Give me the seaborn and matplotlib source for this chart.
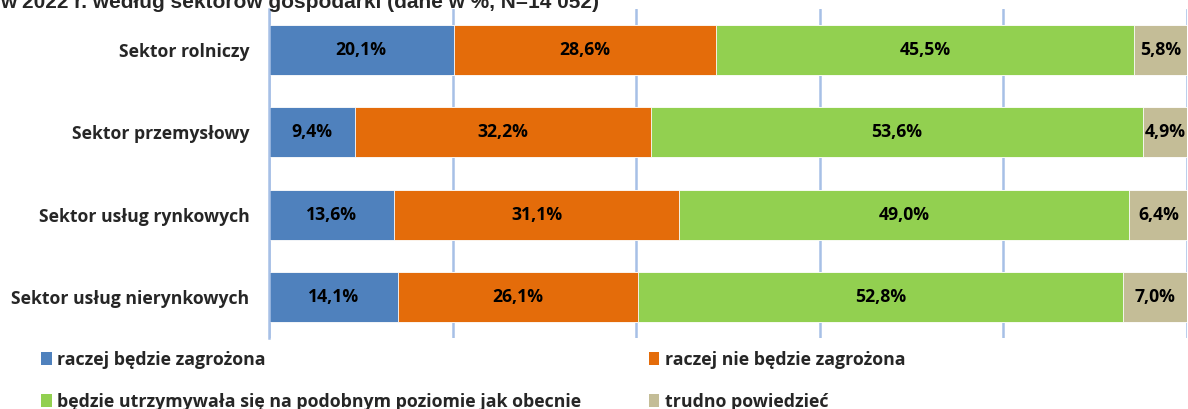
import numpy as np  # Numerical operations
import pandas as pd  # Data manipulation
import matplotlib
matplotlib.use("Agg")
import matplotlib.pyplot as plt  # Visualization
from matplotlib.patches import Patch
import seaborn as sns  # Statistical data visualization

# Data
sectors = ["Sektor rolniczy", "Sektor przemysłowy", "Sektor usług rynkowych", "Sektor usług nierynkowych"]
answers = ["raczej będzie zagrożona", "raczej nie będzie zagrożona",
           "będzie utrzymywała się na podobnym poziomie jak obecnie", "trudno powiedzieć"]
threatened = [20.1, 9.4, 13.6, 14.1]
not_threatened = [28.6, 32.2, 31.1, 26.1]
similar_level = [45.5, 53.6, 49.0, 52.8]
hard_to_say = [5.8, 4.9, 6.4, 7.0]
colors = ["#4F81BD", "#E46C0A", "#92D050", "#C4BD97"]

title = "w 2022 r. według sektorów gospodarki (dane w %, N=14 052)"

df = pd.DataFrame({"sektor": sectors, answers[0]: threatened, answers[1]: not_threatened,
                   answers[2]: similar_level, answers[3]: hard_to_say})
cum = df[answers].cumsum(axis=1)

sns.set_style("white")
plt.rcParams["font.family"] = ["Open Sans", "DejaVu Sans"]

fig = plt.figure(figsize=(11.88, 4.09), dpi=100)
ax = fig.add_axes([269 / 1188, 1 - 338 / 409, 918 / 1188, 329 / 409])

# stacked bars: draw cumulative totals from the widest to the narrowest
for ans, col in reversed(list(zip(answers, colors))):
    sns.barplot(x=cum[ans], y=df["sektor"], color=col, orient="h", width=0.61,
                edgecolor="white", linewidth=0.6, saturation=1, ax=ax, zorder=2)

# value labels in the middle of each segment
for i in range(len(sectors)):
    left = 0
    for ans in answers:
        val = df.loc[i, ans]
        ax.text(left + val / 2, i, f"{val:.1f}%".replace(".", ","), ha="center", va="center",
                fontsize=12.7, fontweight="bold", color="black", zorder=3)
        left += val

ax.set_xlim(0, 100)
ax.set_ylim(3.5, -0.5)
ax.set_xticks(np.arange(0, 101, 20))
ax.xaxis.grid(True, color="#A7C0E6", linewidth=1.8, zorder=0)
ax.set_axisbelow(True)
ax.tick_params(axis="x", labelbottom=False, length=0)
ax.tick_params(axis="y", length=0, pad=14, labelsize=12.7)
for lab in ax.get_yticklabels():
    lab.set_fontweight("bold")
ax.set_xlabel("")
ax.set_ylabel("")
sns.despine(ax=ax, top=True, right=True, bottom=True, left=False)
ax.spines["left"].set_color("#A7C0E6")
ax.spines["left"].set_linewidth(1.8)

# legend (two columns, filled column by column)
order = [0, 2, 1, 3]
handles = [Patch(facecolor=colors[k], edgecolor="none") for k in order]
labels = [answers[k] for k in order]
fig.legend(handles, labels, ncol=2, loc="upper left", bbox_to_anchor=(41 / 1188, 1 - 351 / 409),
           frameon=False, handlelength=0.6, handleheight=0.75, handletextpad=0.3,
           columnspacing=3.8, labelspacing=1.35, borderaxespad=0, borderpad=0,
           prop={"weight": "bold", "size": 12.8})

# title, cut at the top edge like the source
fig.text(0.0, 1 - 8 / 409, title, ha="left", va="baseline", fontsize=15, fontweight="bold",
         family=["Liberation Sans", "DejaVu Sans"])

fig.savefig("out.png", dpi=100)
